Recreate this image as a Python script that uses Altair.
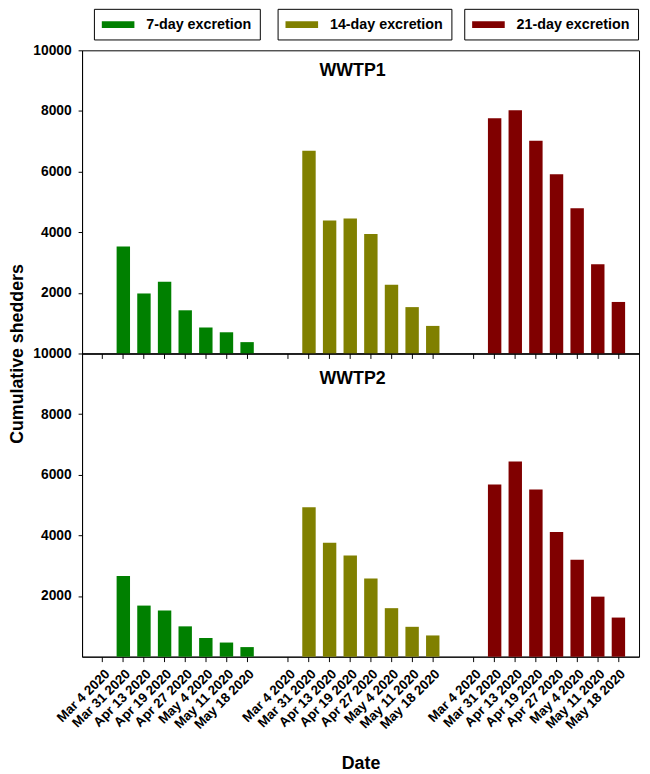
import altair as alt
import pandas as pd

# ---------------- data ----------------
dates = ["Mar 4 2020", "Mar 31 2020", "Apr 13 2020", "Apr 19 2020",
         "Apr 27 2020", "May 4 2020", "May 11 2020", "May 18 2020"]
series = ["7-day excretion", "14-day excretion", "21-day excretion"]
colors = ["#008000", "#808000", "#800000"]
panels = ["WWTP1", "WWTP2"]

wwtp1_7 = [0, 3530, 1980, 2370, 1425, 860, 700, 375]
wwtp1_14 = [0, 6690, 4390, 4450, 3940, 2270, 1530, 910]
wwtp1_21 = [0, 7760, 8020, 7020, 5910, 4790, 2940, 1700]
wwtp2_7 = [0, 2660, 1685, 1520, 1000, 620, 466, 316]
wwtp2_14 = [0, 4930, 3755, 3340, 2580, 1600, 985, 700]
wwtp2_21 = [0, 5680, 6440, 5515, 4110, 3200, 1980, 1290]
y_ticks = [2000, 4000, 6000, 8000, 10000]

values = {
    ("WWTP1", series[0]): wwtp1_7,
    ("WWTP1", series[1]): wwtp1_14,
    ("WWTP1", series[2]): wwtp1_21,
    ("WWTP2", series[0]): wwtp2_7,
    ("WWTP2", series[1]): wwtp2_14,
    ("WWTP2", series[2]): wwtp2_21,
}

rows = []
for (p, s), vals in values.items():
    for d, v in zip(dates, vals):
        rows.append({"panel": p, "series": s, "date": d, "key": f"{s}|{d}", "value": v})
df = pd.DataFrame(rows)

# x domain: three groups of dates separated by an empty slot
real_keys = [f"{s}|{d}" for s in series for d in dates]
domain = []
for i, s in enumerate(series):
    domain += [f"{s}|{d}" for d in dates]
    if i < len(series) - 1:
        domain.append(f"gap{i}")

W = 564
H = 307
FONT = "Liberation Sans"

xscale = alt.Scale(domain=domain, paddingInner=0.35, paddingOuter=0.675)
yscale = alt.Scale(domain=[0, 10000], nice=False)

x_axis_top = alt.Axis(values=real_keys, labels=False, title=None, ticks=True,
                      tickSize=5, domain=True)
x_axis_bottom = alt.Axis(values=real_keys, labelExpr="split(datum.value, '|')[1]",
                         labelAngle=-45, labelAlign="right", labelBaseline="top",
                         labelFontSize=13.5, labelPadding=5, tickSize=5,
                         labelOverlap=False, title="Date", titleFontSize=18,
                         titleY=113, titleBaseline="alphabetic")
y_axis_top = alt.Axis(values=y_ticks, format="d", tickSize=4, labelFontSize=14,
                      labelPadding=7, labelOverlap=False, labelFlush=False,
                      title="Cumulative shedders", titleFontSize=18,
                      titleX=-60, titleY=H, titleAngle=270, titleBaseline="alphabetic")
y_axis_bottom = alt.Axis(values=y_ticks, format="d", tickSize=4, labelFontSize=14,
                         labelPadding=7, labelOverlap=False, labelFlush=False,
                         title=None)

legend_x = [12, 198, 387]


def bar_layer(panel, i, xaxis, yaxis, show_legend):
    d = df[(df.panel == panel) & (df.series == series[i])]
    if show_legend:
        legend = alt.Legend(
            orient="none", legendX=legend_x[i], legendY=-42, title=None,
            symbolType="M-1,-0.44L3.125,-0.44L3.125,0.44L-1,0.44Z",
            symbolSize=256, symbolStrokeWidth=0, symbolOpacity=1,
            labelOffset=29, labelFont=FONT, labelFontSize=14.5,
            labelFontWeight="bold", labelColor="black", labelLimit=300,
            padding=8, strokeColor="black", fillColor="white",
        )
    else:
        legend = None
    return alt.Chart(d).mark_bar().encode(
        x=alt.X("key:N", scale=xscale, axis=xaxis, sort=domain),
        y=alt.Y("value:Q", scale=yscale, axis=yaxis),
        color=alt.Color("series:N",
                        scale=alt.Scale(domain=[series[i]], range=[colors[i]]),
                        legend=legend),
    )


def panel_label(name, ypos):
    return alt.Chart(pd.DataFrame({"panel": [name]})).mark_text(
        font=FONT, fontSize=18, fontWeight="bold", color="black",
        align="center", baseline="middle",
    ).encode(text="panel:N", x=alt.value(274), y=alt.value(ypos))


top = alt.layer(
    *[bar_layer("WWTP1", i, x_axis_top, y_axis_top, True) for i in range(3)],
    panel_label(panels[0], 21),
).resolve_scale(color="independent").properties(width=W, height=H)

bottom = alt.layer(
    *[bar_layer("WWTP2", i, x_axis_bottom, y_axis_bottom, False) for i in range(3)],
    panel_label(panels[1], 26),
).resolve_scale(color="independent").properties(width=W, height=H)

chart = alt.vconcat(top, bottom, spacing=0, bounds="flush").resolve_scale(
    color="independent"
).properties(
    padding={"left": 0, "top": -5, "right": 2, "bottom": 0}
).configure_view(
    stroke="black", strokeWidth=1
).configure_axis(
    grid=False, domainColor="black", tickColor="black", labelColor="black",
    titleColor="black", labelFont=FONT, titleFont=FONT,
    labelFontWeight="bold", titleFontWeight="bold", domainWidth=1, tickWidth=1,
)

chart.save("out.html", embed_options={"renderer": "svg", "actions": False})
